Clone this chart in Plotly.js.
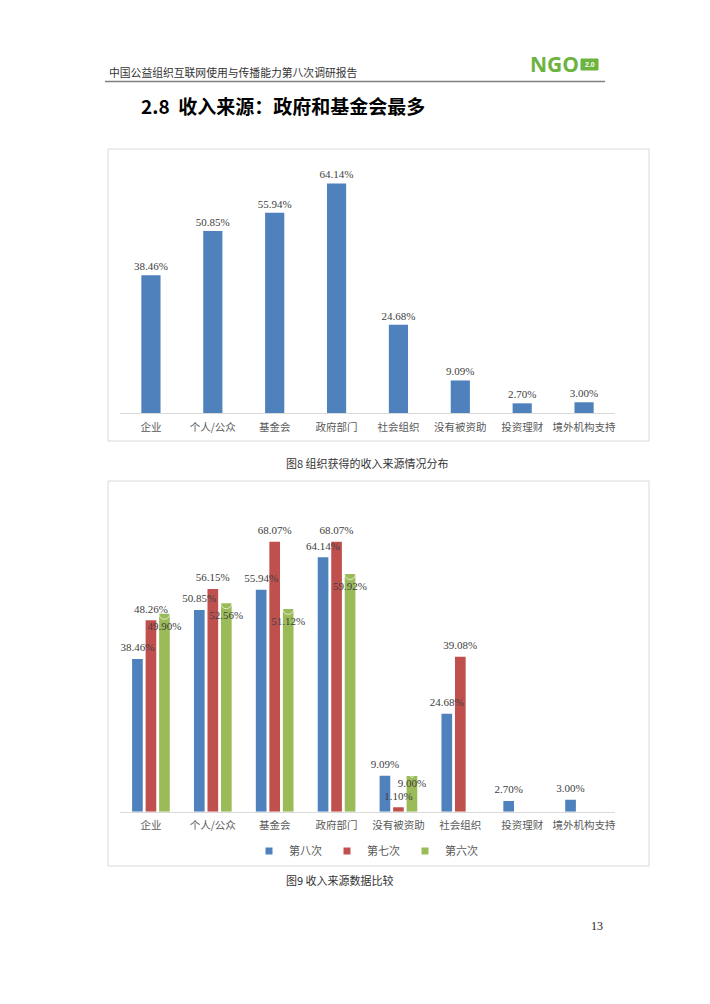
<!DOCTYPE html>
<html>
<head>
<meta charset="utf-8">
<script src="https://cdn.plot.ly/plotly-3.0.1.min.js"></script>
<style>
html,body{margin:0;padding:0;background:#fff;}
#page{width:710px;height:1004px;}
</style>
</head>
<body>
<div id="page"></div>
<script>
// ---- Data ----
var categories1 = ['企业','个人/公众','基金会','政府部门','社会组织','没有被资助','投资理财','境外机构支持'];
var values1 = [38.46, 50.85, 55.94, 64.14, 24.68, 9.09, 2.70, 3.00];

var categories2 = ['企业','个人/公众','基金会','政府部门','没有被资助','社会组织','投资理财','境外机构支持'];
var round8 = [38.46, 50.85, 55.94, 64.14, 9.09, 24.68, 2.70, 3.00];
var round7 = [48.26, 56.15, 68.07, 68.07, 1.10, 39.08, null, null];
var round6 = [49.90, 52.56, 51.12, 59.92, 9.00, null, null, null];
var seriesNames = ['第八次','第七次','第六次'];

// ---- Styles ----
var W = 710, H = 1004;
function px(x){ return x / W; }
function py(y){ return 1 - y / H; }
var BLUE = '#4f81bd', RED = '#c0504d', GREEN = '#9bbb59';
var COLORS = [BLUE, RED, GREEN];
var CJK = '"Noto Sans CJK SC", "Noto Sans", sans-serif';
var NUM = '"Liberation Serif", "DejaVu Serif", serif';
var labelFont = {family: NUM, size: 11, color: '#404040'};
var GAP = 0.345;

var traces = [];
// Figure 8: single series with outside labels
traces.push({
  type: 'bar', x: categories1, y: values1, xaxis: 'x', yaxis: 'y',
  marker: {color: BLUE}, width: 0.31, showlegend: false,
  texttemplate: '%{y:.2f}%', textposition: 'outside', textangle: 0,
  constraintext: 'none', cliponaxis: false, textfont: labelFont, hoverinfo: 'skip'
});
// Figure 9: grouped bars
var series2 = [round8, round7, round6];
series2.forEach(function(vals, i){
  traces.push({
    type: 'bar', name: seriesNames[i], x: categories2, y: vals, xaxis: 'x2', yaxis: 'y2',
    marker: {color: COLORS[i]}, showlegend: false, offsetgroup: 'g' + i,
    hoverinfo: 'skip'
  });
});
// Figure 9 data labels, drawn above all bars (grouped the same way as the bars)
var labelPos = ['top center', 'top center', 'bottom center'];
// invisible marker size -> text offset from the bar top (style only)
var labelPad = [6.4, 6.4, [11, 11, 11, 11, 3, 11, 11, 11]];
series2.forEach(function(vals, i){
  traces.push({
    type: 'scatter', mode: 'markers+text', x: categories2, y: vals, xaxis: 'x2', yaxis: 'y2',
    offsetgroup: 'g' + i, showlegend: false, cliponaxis: false,
    marker: {size: labelPad[i], color: 'rgba(0,0,0,0)'},
    texttemplate: '%{y:.2f}%', textposition: labelPos[i], textfont: labelFont,
    hoverinfo: 'skip'
  });
});
// legend keys (small squares as in the source chart)
seriesNames.forEach(function(n, i){
  traces.push({
    type: 'scatter', mode: 'markers', name: n,
    x: [null], y: [null], xaxis: 'x', yaxis: 'y',
    marker: {symbol: 'square', size: 7, color: COLORS[i]},
    showlegend: true, hoverinfo: 'skip'
  });
});

var xcommon = {
  type: 'category', showgrid: false, zeroline: false, showline: true,
  linecolor: '#d9d9d9', linewidth: 1, ticks: '', ticklabelstandoff: 4,
  tickfont: {family: CJK, size: 10.5, color: '#595959'}, fixedrange: true
};
var ycommon = {
  showgrid: false, zeroline: false, showline: false, showticklabels: false,
  ticks: '', fixedrange: true
};

var layout = {
  width: W, height: H,
  margin: {l: 0, r: 0, t: 0, b: 0},
  paper_bgcolor: '#fff', plot_bgcolor: 'rgba(0,0,0,0)',
  barmode: 'group', bargap: GAP, bargroupgap: 0.21,
  scattermode: 'group', scattergap: GAP,
  showlegend: true,
  legend: {
    orientation: 'h', x: px(366), xanchor: 'center', y: py(851), yanchor: 'middle',
    font: {family: CJK, size: 11, color: '#595959'},
    itemwidth: 30, traceorder: 'normal', bgcolor: 'rgba(0,0,0,0)',
    itemclick: false, itemdoubleclick: false
  },
  xaxis: Object.assign({}, xcommon, {
    domain: [px(120), px(615)], anchor: 'y',
    categoryorder: 'array', categoryarray: categories1
  }),
  yaxis: Object.assign({}, ycommon, {
    domain: [py(413), py(413 - 70 * 3.58)], range: [0, 70], anchor: 'x'
  }),
  xaxis2: Object.assign({}, xcommon, {
    domain: [px(120), px(615)], anchor: 'y2',
    categoryorder: 'array', categoryarray: categories2
  }),
  yaxis2: Object.assign({}, ycommon, {
    domain: [py(811.7), py(811.7 - 75 * 3.967)], range: [0, 75], anchor: 'x2'
  }),
  shapes: [
    {type: 'line', xref: 'paper', yref: 'paper', x0: px(105), x1: px(605), y0: py(81.5), y1: py(81.5),
     line: {color: '#7f7f7f', width: 1.5}},
    {type: 'rect', xref: 'paper', yref: 'paper', x0: px(108), x1: px(649), y0: py(149), y1: py(441),
     line: {color: '#d9d9d9', width: 1}},
    {type: 'rect', xref: 'paper', yref: 'paper', x0: px(108), x1: px(649), y0: py(481), y1: py(866),
     line: {color: '#d9d9d9', width: 1}},
    {type: 'rect', xref: 'paper', yref: 'paper', x0: px(581), x1: px(598), y0: py(59), y1: py(70),
     fillcolor: '#6db33f', line: {color: '#6db33f', width: 1}}
  ],
  annotations: [
    {xref: 'paper', yref: 'paper', x: px(107), y: py(72), xanchor: 'left', yanchor: 'middle',
     text: '中国公益组织互联网使用与传播能力第八次调研报告', showarrow: false,
     font: {family: CJK, size: 10.8, color: '#333333'}},
    {xref: 'paper', yref: 'paper', x: px(528), y: py(64), xanchor: 'left', yanchor: 'middle',
     text: '<b>NGO</b>', showarrow: false,
     font: {family: '"Open Sans", "Liberation Sans", sans-serif', size: 21, color: '#6db33f'}},
    {xref: 'paper', yref: 'paper', x: px(589.5), y: py(64.5), xanchor: 'center', yanchor: 'middle',
     text: '<b>2.0</b>', showarrow: false,
     font: {family: '"Liberation Sans", sans-serif', size: 7, color: '#ffffff'}},
    {xref: 'paper', yref: 'paper', x: px(139), y: py(105), xanchor: 'left', yanchor: 'middle',
     text: '<b>2.8  收入来源：政府和基金会最多</b>', showarrow: false,
     font: {family: CJK, size: 19, color: '#000000'}},
    {xref: 'paper', yref: 'paper', x: px(367), y: py(463), xanchor: 'center', yanchor: 'middle',
     text: '图8 组织获得的收入来源情况分布', showarrow: false,
     font: {family: CJK, size: 11, color: '#333333'}},
    {xref: 'paper', yref: 'paper', x: px(340), y: py(880), xanchor: 'center', yanchor: 'middle',
     text: '图9 收入来源数据比较', showarrow: false,
     font: {family: CJK, size: 11, color: '#333333'}},
    {xref: 'paper', yref: 'paper', x: px(597), y: py(926), xanchor: 'center', yanchor: 'middle',
     text: '13', showarrow: false,
     font: {family: NUM, size: 12, color: '#222222'}}
  ]
};

Plotly.newPlot('page', traces, layout, {displayModeBar: false, staticPlot: true});
</script>
</body>
</html>
